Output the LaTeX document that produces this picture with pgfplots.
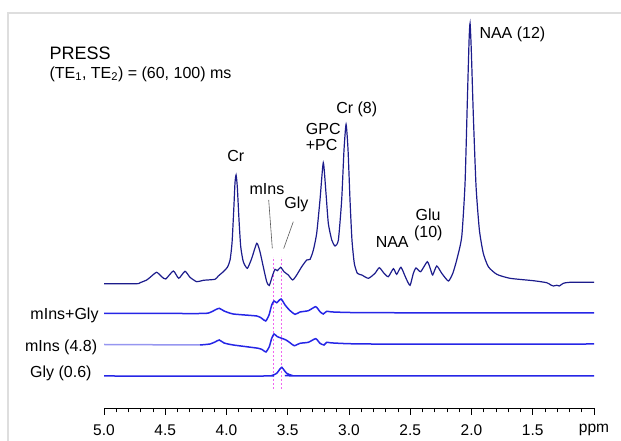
\documentclass[border=0pt]{standalone}
\usepackage{fontspec}
\setmainfont{Liberation Sans}
\usepackage{xcolor}
\definecolor{navyline}{RGB}{28,28,140}
\definecolor{blueline}{RGB}{38,38,230}
\definecolor{paleblue}{RGB}{150,150,240}
\definecolor{pinkdot}{RGB}{240,100,240}
\definecolor{framegray}{RGB}{222,222,222}
\definecolor{leader}{RGB}{90,90,90}
\usepackage{pgfplots}
\pgfplotsset{compat=1.18}

\newcommand{\lab}{\fontsize{16}{19}\selectfont}

\begin{document}
\begin{tikzpicture}
\path[use as bounding box] (0,0) rectangle (621pt,441pt);
\draw[framegray, line width=1.5pt] (8pt,0) -- (8pt,428pt) -- (621pt,428pt);

%% spectra: x in ppm, y in picture units (pt above the bottom edge)
\begin{axis}[
  at={(0,0)}, anchor=south west,
  width=621pt, height=441pt, scale only axis,
  x dir=reverse, xmin=0.780, xmax=5.849,
  ymin=0, ymax=441,
  hide axis, clip=false,
]
\addplot[mark=none, pinkdot, line width=1pt, dash pattern=on 2pt off 2pt] coordinates {(3.615,52) (3.615,184)};
\addplot[mark=none, pinkdot, line width=1pt, dash pattern=on 2pt off 2pt] coordinates {(3.553,52) (3.553,184)};

%% PRESS spectrum
\addplot[navyline, line width=1.2pt, smooth, tension=0.35] coordinates {
  (5.000,157.3)(4.733,157.3)(4.706,158.3)(4.651,161)(4.611,165)
  (4.570,168.7)(4.529,164.3)(4.496,162)(4.434,170)(4.390,162.7)
  (4.339,169.7)(4.298,163.7)(4.243,159.3)(4.189,160.7)(4.094,161.7)
  (4.067,165)(4.026,169.3)(3.993,173.7)(3.971,181)(3.955,198)
  (3.941,231)(3.931,257.7)(3.922,266)(3.912,254.3)(3.898,221)
  (3.884,194.3)(3.863,179.3)(3.830,172.7)(3.794,182.7)(3.753,197.7)
  (3.727,189.3)(3.700,174.3)(3.672,159.3)(3.651,155.5)(3.623,166)
  (3.604,171.7)(3.585,170.3)(3.558,173.7)(3.531,169.3)(3.496,166)
  (3.460,161)(3.427,166)(3.386,174.3)(3.345,181)(3.318,181.7)
  (3.291,191)(3.264,207.7)(3.237,241)(3.210,278.3)(3.188,247.7)
  (3.169,217.7)(3.141,201)(3.114,195)(3.087,201)(3.060,241)
  (3.041,291)(3.024,316.7)(3.008,291)(2.992,241)(2.976,201)
  (2.957,177.7)(2.932,167.7)(2.896,166)(2.842,162.7)(2.788,167.7)
  (2.753,173.3)(2.714,167.7)(2.679,164.3)(2.638,172.3)(2.611,166.7)
  (2.576,173.7)(2.535,162.7)(2.502,155.7)(2.475,167.7)(2.453,173)
  (2.415,169.3)(2.361,179.3)(2.333,171)(2.317,166)(2.284,175)
  (2.243,167.7)(2.189,160)(2.153,167.7)(2.121,181)(2.080,204.3)
  (2.053,257.7)(2.034,341)(2.020,401)(2.012,417.7)(2.002,391)
  (1.985,324.3)(1.963,254.3)(1.936,211)(1.904,187.7)(1.863,174.3)
  (1.794,166.7)(1.686,162.7)(1.496,160.3)(1.386,158.3)(1.353,156)
  (1.332,155)(1.304,155.7)(1.283,155)(1.251,157.7)(1.196,158.7)
  (1.000,158.7)
};

%% mIns+Gly
\addplot[blueline, line width=1.5pt, smooth, tension=0.35] coordinates {
  (5.000,127.7)(4.216,127.5)(4.135,128.5)(4.094,131)(4.059,132.7)
  (4.020,130)(3.944,127)(3.753,125)(3.713,122.7)(3.680,120)
  (3.653,126)(3.631,136)(3.612,140)(3.590,138.3)(3.555,142)
  (3.522,136)(3.487,131)(3.441,126.7)(3.400,129)(3.332,130.3)
  (3.272,134.3)(3.237,129.3)(3.210,127)(3.182,129.7)(3.128,129)
  (2.829,128.3)(1.000,128)
};

%% mIns (4.8)
\addplot[paleblue, line width=1.5pt] coordinates {
  (5.000,96.5)(4.216,96)
};
\addplot[blueline, line width=1.5pt, smooth, tension=0.35] coordinates {
  (4.216,96)(4.135,97)(4.094,99)(4.059,101)(4.020,98)
  (3.944,96)(3.740,92.7)(3.704,91)(3.678,89)(3.651,94.3)
  (3.631,102.7)(3.612,107)(3.585,104.3)(3.549,102.7)(3.514,101)
  (3.482,98.3)(3.447,95.3)(3.400,97.7)(3.332,98.7)(3.272,102.3)
  (3.237,97.7)(3.204,96)(3.182,98.7)(3.128,98)(2.829,97)(1.000,97)
};

%% Gly (0.6)
\addplot[blueline, line width=1.5pt, smooth, tension=0.35] coordinates {
  (5.000,65)(3.686,65)(3.629,65.5)(3.590,67.7)(3.567,71.5)
  (3.549,73.7)(3.531,71)(3.509,67.7)(3.468,65.7)(3.400,65.2)(1.000,65)
};
\end{axis}

%% ppm scale
\begin{axis}[
  at={(104pt,33pt)}, anchor=south west,
  width=490pt, height=60pt, scale only axis,
  x dir=reverse, xmin=1, xmax=5, ymin=0, ymax=1,
  axis x line*=bottom, axis y line=none,
  axis line style={black, line width=0.9pt},
  xtick={5,4.5,4,3.5,3,2.5,2,1.5,1},
  xticklabels={5.0,4.5,4.0,3.5,3.0,2.5,2.0,1.5,ppm},
  minor x tick num=4,
  tick align=outside,
  major tick length=7pt, minor tick length=4.5pt,
  every tick/.style={black, line width=0.9pt},
  xticklabel style={font=\fontsize{15.5}{18}\selectfont, yshift=-6pt},
]
\end{axis}

%% labels
\node[inner sep=0, anchor=base west, font=\fontsize{18}{21}\selectfont] at (49.3pt,381.7pt) {PRESS};
\node[inner sep=0, anchor=base west, font=\lab] at (49.3pt,362.7pt) {(TE\textsubscript{1}, TE\textsubscript{2}) = (60, 100) ms};

\node[inner sep=0, anchor=base, font=\lab] at (235.8pt,279.3pt) {Cr};
\node[inner sep=0, anchor=base, font=\lab] at (267pt,246.7pt) {mIns};
\node[inner sep=0, anchor=base, font=\lab] at (296.3pt,232pt) {Gly};
\node[inner sep=0, anchor=base west, font=\lab] at (305.7pt,306pt) {GPC};
\node[inner sep=0, anchor=base west, font=\lab] at (305.7pt,290pt) {+PC};
\node[inner sep=0, anchor=base, font=\lab] at (356.7pt,327pt) {Cr (8)};
\node[inner sep=0, anchor=base west, font=\lab] at (479.3pt,402.7pt) {NAA (12)};
\node[inner sep=0, anchor=base, font=\lab] at (428pt,220.3pt) {Glu};
\node[inner sep=0, anchor=base, font=\lab] at (428.3pt,203.3pt) {(10)};
\node[inner sep=0, anchor=base, font=\lab] at (392.2pt,193.7pt) {NAA};

\draw[leader, line width=0.6pt] (268.7pt,241pt) -- (272.3pt,192.7pt);
\draw[leader, line width=0.6pt] (293.3pt,219.3pt) -- (283.7pt,192.5pt);

\node[inner sep=0, anchor=base east, font=\lab] at (98.7pt,121.7pt) {mIns+Gly};
\node[inner sep=0, anchor=base east, font=\lab] at (97.3pt,89.3pt) {mIns (4.8)};
\node[inner sep=0, anchor=base east, font=\lab] at (91.7pt,63.7pt) {Gly (0.6)};
\end{tikzpicture}
\end{document}
